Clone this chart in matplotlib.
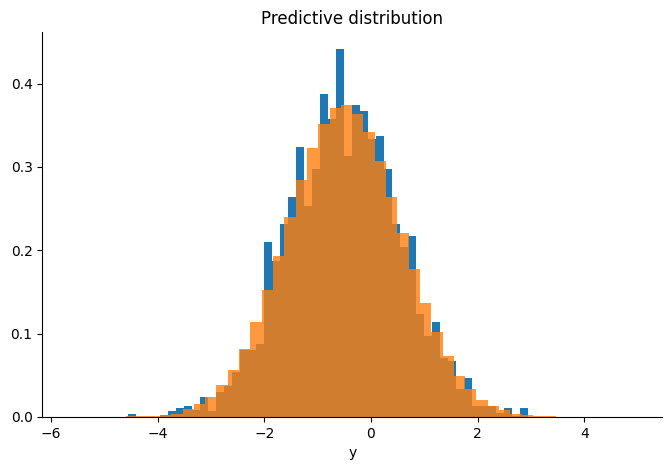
import numpy as np
import matplotlib
matplotlib.use("Agg")
import matplotlib.pyplot as plt

blue_lo, blue_hi, blue_n = -4.55, 2.95, 50
blue_heights = [0.0036, 0, 0, 0, 0.002, 0.007, 0.011, 0.013, 0.008, 0.024,
                0.007, 0.030, 0.037, 0.054, 0.080, 0.080, 0.088, 0.210, 0.187, 0.231,
                0.264, 0.324, 0.253, 0.298, 0.388, 0.358, 0.441, 0.313, 0.374, 0.367,
                0.334, 0.337, 0.298, 0.231, 0.204, 0.217, 0.124, 0.097, 0.114, 0.071,
                0.067, 0.034, 0.047, 0.013, 0.013, 0.013, 0.005, 0.011, 0.001, 0.011]

orange_lo, orange_hi, orange_n = -4.59, 3.46, 38
orange_heights = [0.001, 0.001, 0.001, 0.002, 0.004, 0.009, 0.015, 0.024, 0.038, 0.056,
                  0.081, 0.114, 0.152, 0.193, 0.240, 0.284, 0.323, 0.351, 0.371, 0.374,
                  0.363, 0.342, 0.307, 0.264, 0.221, 0.178, 0.137, 0.102, 0.073, 0.049,
                  0.034, 0.020, 0.013, 0.008, 0.004, 0.002, 0.001, 0.001]

fig = plt.figure(figsize=(6.71, 4.70), dpi=100)
ax = fig.add_axes([0.063, 0.113, 0.924, 0.819])

be = np.linspace(blue_lo, blue_hi, blue_n + 1)
ax.hist((be[:-1] + be[1:]) / 2, bins=be, weights=blue_heights, color="C0")
oe = np.linspace(orange_lo, orange_hi, orange_n + 1)
ax.hist((oe[:-1] + oe[1:]) / 2, bins=oe, weights=orange_heights, color="C1", alpha=0.8)

ax.set_xlim(-6.16, 5.46)
ax.set_ylim(0, 0.462)
ax.set_xticks([-6, -4, -2, 0, 2, 4])
ax.set_yticks([0.0, 0.1, 0.2, 0.3, 0.4])
ax.spines["top"].set_visible(False)
ax.spines["right"].set_visible(False)
ax.set_title("Predictive distribution")
ax.set_xlabel("y")
fig.savefig("out.png", dpi=100)
